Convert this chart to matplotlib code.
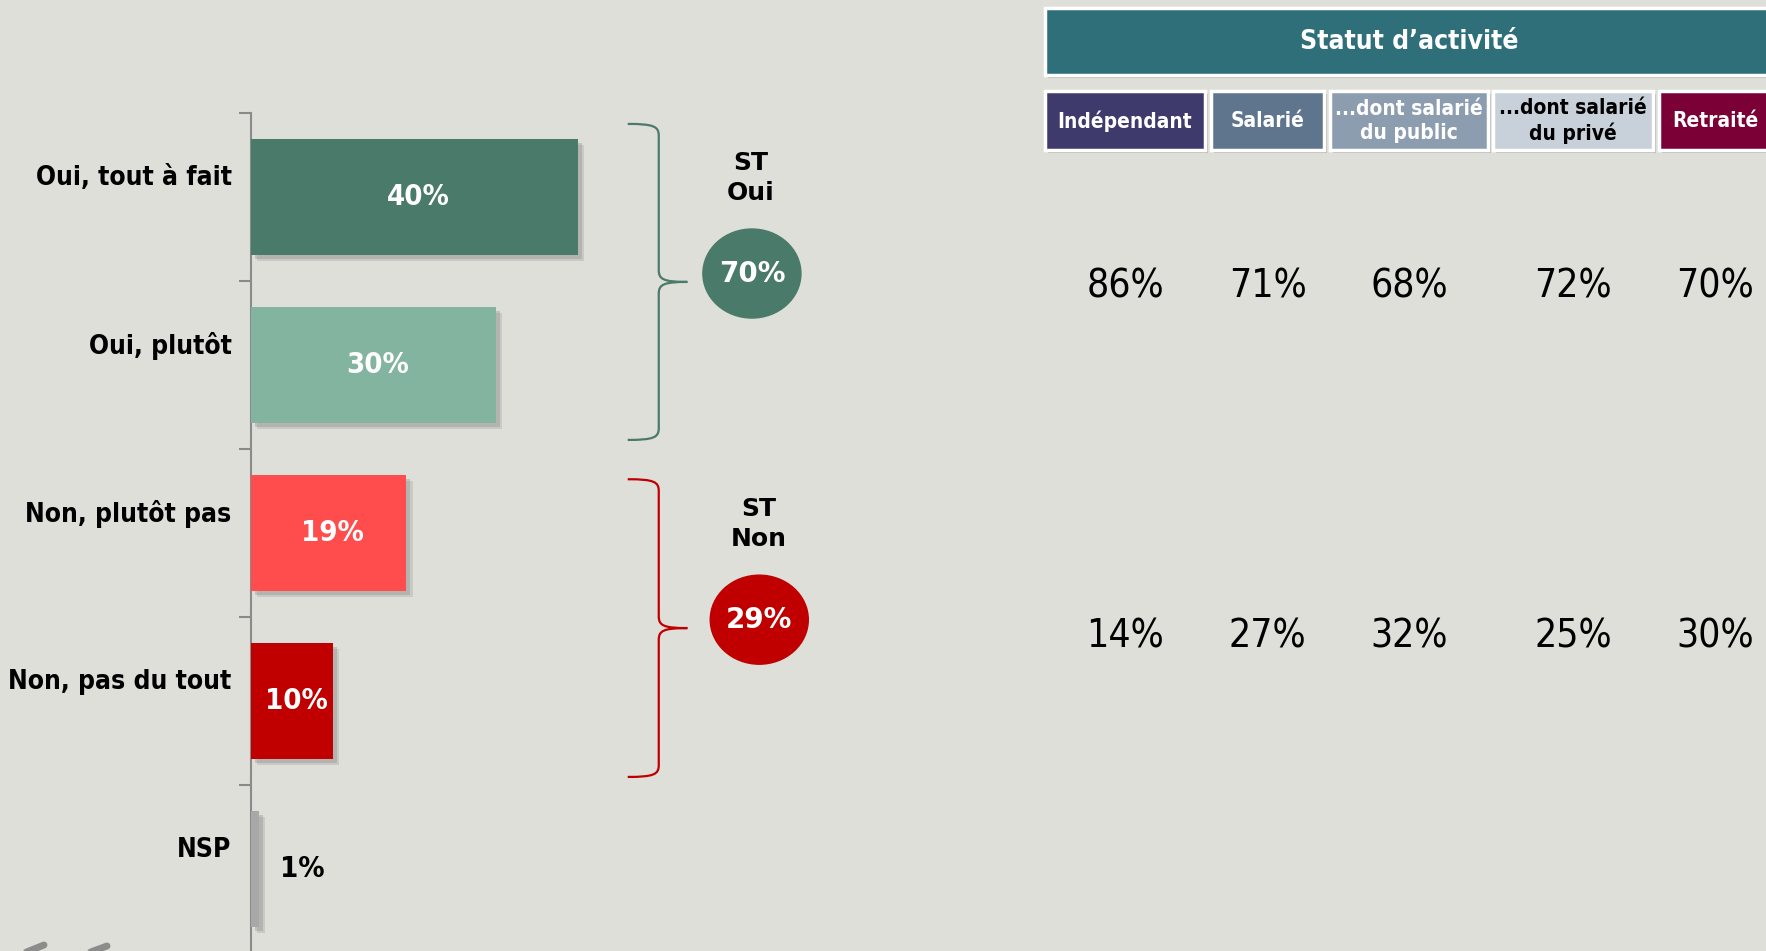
"""Recreation of the 'Oui / Non' bar chart with the activity-status side table."""

import matplotlib

matplotlib.use("Agg")
import matplotlib.patheffects as pe
import matplotlib.pyplot as plt
import numpy as np
from matplotlib.patches import Ellipse, PathPatch, Rectangle
from matplotlib.path import Path

# --- data -------------------------------------------------------------------
categories = ["Oui, tout à fait", "Oui, plutôt", "Non, plutôt pas", "Non, pas du tout", "NSP"]
values = [40, 30, 19, 10, 1]
bar_colors = ["#4a7a6a", "#82b4a0", "#ff4c4c", "#c00000", "#a8a8a8"]

group_labels = ["ST\nOui", "ST\nNon"]
group_rows = [[0, 1], [2, 3]]
group_totals = [70, 29]
group_colors = ["#4a7a6a", "#c00000"]

table_title = "Statut d\u2019activité"
status_labels = ["Indépendant", "Salarié", "...dont salarié\ndu public", "...dont salarié\ndu privé", "Retraité"]
status_colors = ["#3f3a6c", "#5f758d", "#8d9db0", "#c8d0d9", "#7a0036"]
status_text_colors = ["white", "white", "white", "black", "white"]
yes_by_status = [86, 71, 68, 72, 70]
no_by_status = [14, 27, 32, 25, 30]

# --- style ------------------------------------------------------------------
W, H = 1766, 951
BG = "#dfdfda"
FONT = "DejaVu Sans"
COND = dict(family=FONT, stretch="condensed")

# bracket / bubble layout per group (top padding inside the slot, bubble x)
bracket_pad_top = [0.065, 0.18]
bracket_pad_bot = [0.054, 0.048]
bubble_x = [61.3, 62.2]

plt.rcParams["font.family"] = [FONT]

fig = plt.figure(figsize=(W / 100, H / 100), dpi=100, facecolor=BG)

# overlay in pixel coordinates for the table
ov = fig.add_axes([0, 0, 1, 1])
ov.set_xlim(0, W)
ov.set_ylim(H, 0)
ov.axis("off")
ov.set_facecolor("none")

# --- bar chart --------------------------------------------------------------
ax = fig.add_axes([251 / W, 1 - 953 / H, 572 / W, 840 / H])
ax.set_facecolor("none")
ax.set_xlim(0, 70)
ax.set_ylim(len(categories) - 0.5, -0.5)
for side in ["top", "right", "bottom"]:
    ax.spines[side].set_visible(False)
ax.spines["left"].set_color("#8a8a8a")
ax.spines["left"].set_linewidth(1.5)
ax.set_xticks([])
ax.set_yticks(np.arange(-0.5, len(categories) + 0.5, 1))
ax.set_yticklabels([])
ax.tick_params(axis="y", length=9, width=1.5, color="#8a8a8a")

shadow = [
    pe.SimplePatchShadow(offset=(4.5, -4.5), shadow_rgbFace="#8a8a8a", alpha=0.25),
    pe.SimplePatchShadow(offset=(3, -3), shadow_rgbFace="#8a8a8a", alpha=0.35),
    pe.Normal(),
]
y = np.arange(len(categories))
bars = ax.barh(y, values, height=0.69, color=bar_colors, zorder=3)
for b in bars:
    b.set_path_effects(shadow)

for i, (cat, v) in enumerate(zip(categories, values)):
    ax.annotate(cat, xy=(0, i), xycoords=ax.get_yaxis_transform(),
                xytext=(-14, 14), textcoords="offset points",
                ha="right", va="center", fontsize=19, weight="bold", **COND)
    if v >= 5:
        ax.text(v / 2 + 0.5, i, f"{v}%", ha="center", va="center", color="white",
                fontsize=21, weight="bold", zorder=4, **COND)
    else:
        ax.text(v + 2.5, i, f"{v}%", ha="left", va="center", color="black",
                fontsize=21, weight="bold", zorder=4, **COND)

# brackets + totals
x_end, x_line, x_tip = 46.1, 49.9, 53.4
for k, (label, rows, total, col) in enumerate(zip(group_labels, group_rows, group_totals,
                                                   group_colors)):
    top = rows[0] - 0.5 + bracket_pad_top[k]
    bot = rows[-1] + 0.5 - bracket_pad_bot[k]
    mid = (top + bot) / 2
    verts = [
        (x_end, top),
        (x_line - 0.6, top), (x_line, top + 0.015), (x_line, top + 0.07),
        (x_line, mid - 0.07),
        (x_line, mid - 0.015), (x_line + 0.6, mid), (x_tip, mid),
        (x_line + 0.6, mid), (x_line, mid + 0.015), (x_line, mid + 0.07),
        (x_line, bot - 0.07),
        (x_line, bot - 0.015), (x_line - 0.6, bot), (x_end, bot),
    ]
    codes = [Path.MOVETO] + [Path.CURVE4] * 3 + [Path.LINETO] + [Path.CURVE4] * 6 \
        + [Path.LINETO] + [Path.CURVE4] * 3
    ax.add_patch(PathPatch(Path(verts, codes), fill=False, edgecolor=col, lw=1.6,
                           clip_on=False))
    bx, by = bubble_x[k], mid - 0.05
    ax.add_patch(Ellipse((bx, by), width=12, height=0.53, color=col,
                         clip_on=False, zorder=3))
    ax.text(bx, by, f"{total}%", ha="center", va="center", color="white",
            fontsize=20, weight="bold", zorder=4)
    ax.text(bx - 0.1, mid - 0.62, label, ha="center", va="center", fontsize=18,
            weight="bold", linespacing=1.3)

# --- table ------------------------------------------------------------------
box_shadow = [pe.SimplePatchShadow(offset=(2, -2), shadow_rgbFace="#888888", alpha=0.45), pe.Normal()]
col_left = [1045, 1211, 1330, 1493, 1659]
col_right = [1205, 1324, 1488, 1653, 1771]

head = Rectangle((1045, 8), 1773 - 1045, 67, facecolor="#2e6f7a", edgecolor="white", lw=2.5)
head.set_path_effects(box_shadow)
ov.add_patch(head)
ov.text((1045 + 1773) / 2, 42, table_title, ha="center", va="center", color="white",
        fontsize=19, weight="bold", **COND)

for lbl, fc, tc, x0, x1, yv, nv in zip(status_labels, status_colors, status_text_colors,
                                       col_left, col_right, yes_by_status, no_by_status):
    r = Rectangle((x0, 91), x1 - x0, 59, facecolor=fc, edgecolor="white", lw=2.5)
    r.set_path_effects(box_shadow)
    ov.add_patch(r)
    cx = (x0 + x1) / 2
    ov.text(cx, 121, lbl, ha="center", va="center", color=tc, fontsize=15,
            weight="bold", linespacing=1.2, **COND)
    ov.text(cx, 286, f"{yv}%", ha="center", va="center", fontsize=28, **COND)
    ov.text(cx, 636, f"{nv}%", ha="center", va="center", fontsize=28, **COND)

# fragment of a logo cut by the bottom-left corner
ov.plot([24, 44], [953, 945], color="#555555", lw=5, solid_capstyle="round", alpha=0.6)
ov.plot([88, 107], [953, 946], color="#555555", lw=5, solid_capstyle="round", alpha=0.6)

fig.savefig("out.png", dpi=100, facecolor=BG)
